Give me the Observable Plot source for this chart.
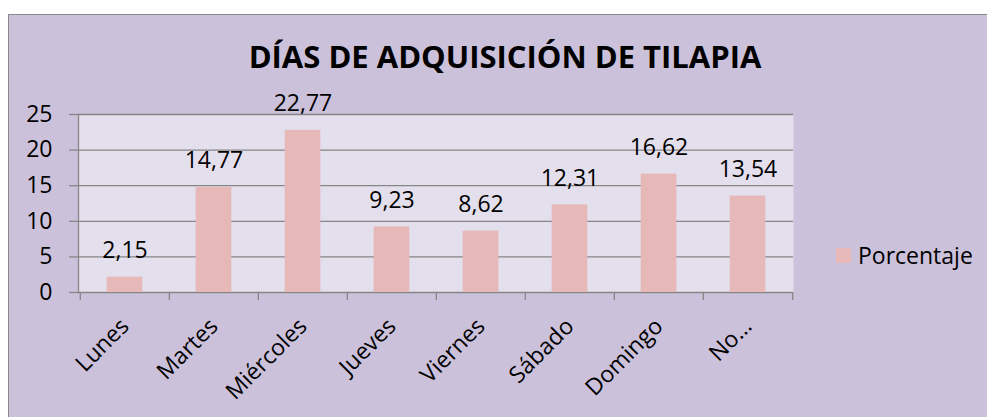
<!DOCTYPE html>
<html><head><meta charset="utf-8">
<script src="https://cdn.jsdelivr.net/npm/d3@7"></script>
<script src="https://cdn.jsdelivr.net/npm/@observablehq/plot@0.6"></script>
<style>
body{margin:0;background:#fff;}
#wrap{position:relative;width:987px;height:417px;overflow:hidden;font-family:"Open Sans",sans-serif;}
#frame{position:absolute;left:8px;top:14px;width:1000px;height:420px;background:#CCC1DA;border:1.5px solid #8a8a8a;box-sizing:border-box;}
#chart{position:absolute;left:0;top:0;}
#title{position:absolute;left:505px;top:41px;transform:translateX(-50%);white-space:nowrap;font-weight:700;font-size:31px;line-height:31px;color:#000;}
#legend{position:absolute;left:836px;top:244px;height:22px;display:flex;align-items:center;font-size:23px;line-height:22px;color:#000;}
#legend .sw{width:15px;height:15px;background:#E6B9B8;margin-right:7px;}
</style>
</head><body>
<div id="wrap">
  <div id="frame"></div>
  <div id="chart"></div>
  <div id="title">DÍAS DE ADQUISICIÓN DE TILAPIA</div>
  <div id="legend"><div class="sw"></div><span>Porcentaje</span></div>
</div>
<script>
const categories = ["Lunes","Martes","Miércoles","Jueves","Viernes","Sábado","Domingo","No…"];
const values = [2.15,14.77,22.77,9.23,8.62,12.31,16.62,13.54];
const yTicks = [0,5,10,15,20,25];
const seriesName = "Porcentaje";

const data = categories.map((c,i)=>({cat:c, val:values[i]}));
const W = 987, H = 417, mL = 78, mR = 194, mT = 114, mB = 125;
const step = (W - mL - mR) / categories.length;
const barW = 36;
const inset = (step - barW) / 2;
const grey = "#868686";
const fs = 23;
const fmt = v => v.toFixed(2).replace(".", ",");

const chart = Plot.plot({
  width: W, height: H,
  marginLeft: mL, marginRight: mR, marginTop: mT, marginBottom: mB,
  style: {background: "transparent", fontFamily: "'Open Sans', sans-serif", fontSize: fs + "px", color: "#000"},
  x: {domain: categories, padding: 0},
  y: {domain: [0, 25]},
  marks: [
    Plot.frame({fill: "#E4DFEC", stroke: null}),
    Plot.gridY(yTicks, {stroke: grey, strokeOpacity: 1, strokeWidth: 1.3}),
    Plot.barY(data, {x: "cat", y: "val", fill: "#E6B9B8", insetLeft: inset, insetRight: inset}),
    Plot.text(data, {x: "cat", y: "val", text: d => fmt(d.val), dy: -19, lineAnchor: "bottom", fontSize: fs, fill: "#000"}),
    Plot.frame({anchor: "left", stroke: grey, strokeWidth: 1.3}),
    Plot.axisY({ticks: yTicks, tickSize: 9, tickPadding: 17, fontSize: fs, stroke: grey, fill: "#000", label: null, strokeWidth: 1.3}),
    Plot.axisX({tickSize: 0, tickRotate: -45, tickPadding: 30, fontSize: fs, fill: "#000", label: null}),
    Plot.axisX({tickSize: 8, tickFormat: () => "", dx: -step/2, stroke: grey, strokeWidth: 1.3, label: null}),
    Plot.axisX({ticks: [categories[categories.length-1]], tickSize: 8, tickFormat: () => "", dx: step/2, stroke: grey, strokeWidth: 1.3, label: null})
  ]
});
document.getElementById("chart").appendChild(chart);
</script>
</body></html>
